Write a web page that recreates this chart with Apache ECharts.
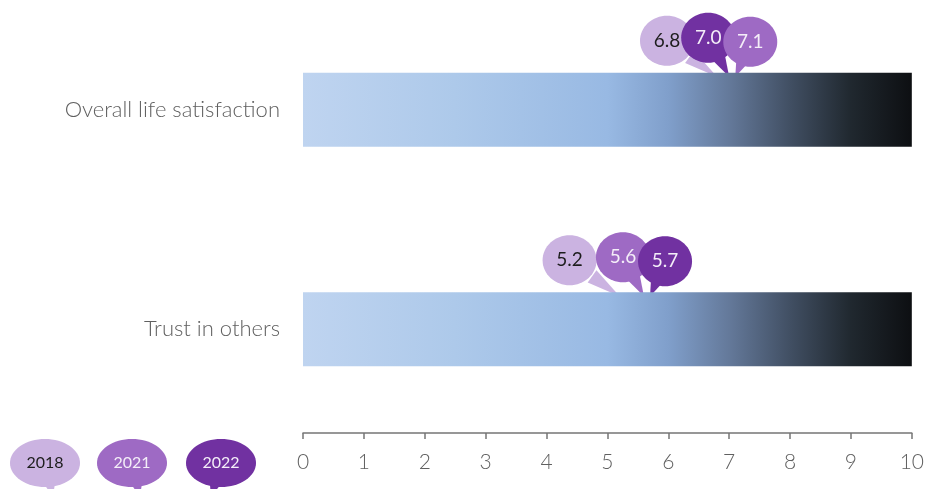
<!DOCTYPE html>
<html>
<head>
<meta charset="utf-8">
<script src="https://cdn.jsdelivr.net/npm/echarts@6/dist/echarts.min.js"></script>
<style>
  html, body { margin: 0; padding: 0; background: #ffffff; }
  #chart { width: 927px; height: 489px; }
</style>
</head>
<body>
<div id="chart"></div>
<script>
// Indicator names and the yearly scores (0-10 scale)
const categories = ['Overall life satisfaction', 'Trust in others'];
const years = ['2018', '2021', '2022'];
const values2018 = [6.8, 5.2];
const values2021 = [7.1, 5.6];
const values2022 = [7.0, 5.7];
const scaleEnd = [10, 10];
const xTicks = [0, 1, 2, 3, 4, 5, 6, 7, 8, 9, 10];

// Styling
const FONT = 'Lato, "Open Sans", sans-serif';
const yearFill = ['#CBB3E1', '#9E6AC4', '#7131A1'];
const yearText = ['#1d1d1d', '#F4EEF8', '#F4EEF8'];
const BAR_W = 74;
// bubble centre offset from its pointer tip, by rank within a row (left to right)
const bubbleOffset = [[-50, -36], [-21, -39], [15, -35]];
const BUBBLE_RX = 27, BUBBLE_RY = 25;

const seriesByYear = [values2018, values2021, values2022];

// one record per bubble, drawn left to right so the right-hand one sits on top
const bubbleData = [];
categories.forEach((c, ci) => {
  const items = years.map((y, yi) => ({ v: seriesByYear[yi][ci], yi }));
  items.sort((a, b) => a.v - b.v);
  items.forEach((it, rank) => bubbleData.push([it.v, ci, it.yi, rank]));
});

function ellipsePoints(cx, cy, rx, ry) {
  const pts = [];
  for (let i = 0; i < 64; i++) {
    const a = (i / 64) * Math.PI * 2;
    pts.push([cx + rx * Math.cos(a), cy + ry * Math.sin(a)]);
  }
  return pts;
}

function tailPoints(cx, cy, tx, ty, half) {
  const dx = tx - cx, dy = ty - cy;
  const len = Math.sqrt(dx * dx + dy * dy) || 1;
  const px = -dy / len * half, py = dx / len * half;
  const bx = cx + dx * 0.45, by = cy + dy * 0.45;
  return [[bx + px, by + py], [bx - px, by - py], [tx, ty]];
}

function bubble(cx, cy, rx, ry, tx, ty, fill, label, color, fontSize) {
  return {
    type: 'group',
    children: [
      { type: 'polygon', shape: { points: tailPoints(cx, cy, tx, ty, 7.5) }, style: { fill: fill } },
      { type: 'polygon', shape: { points: ellipsePoints(cx, cy, rx, ry) }, style: { fill: fill } },
      {
        type: 'text',
        x: cx, y: cy,
        style: {
          text: label, fill: color, font: fontSize + 'px ' + FONT,
          align: 'center', verticalAlign: 'middle'
        }
      }
    ]
  };
}

const chart = echarts.init(document.getElementById('chart'), null, { renderer: 'canvas' });

// legend bubbles in the lower-left corner
const legendX = [45, 132, 221];
const legendTip = [8, 8, -10];
const legendGraphics = years.map((y, i) =>
  bubble(legendX[i], 463, 35, 24, legendX[i] + legendTip[i], 497, yearFill[i], y, yearText[i], 16)
);

chart.setOption({
  animation: false,
  backgroundColor: '#ffffff',
  grid: { left: 303, right: 12, top: -1, height: 440, containLabel: false },
  xAxis: {
    type: 'value', min: xTicks[0], max: xTicks[xTicks.length - 1], interval: 1,
    offset: -6,
    axisLine: { show: true, lineStyle: { color: '#767676', width: 1.5 } },
    axisTick: { show: true, length: 6, lineStyle: { color: '#767676', width: 1.5 } },
    axisLabel: { color: '#606060', fontSize: 21, fontWeight: 300, fontFamily: FONT, margin: 19 },
    splitLine: { show: false }
  },
  yAxis: {
    type: 'category', data: categories, inverse: true,
    axisLine: { show: false }, axisTick: { show: false },
    axisLabel: { color: '#606060', fontSize: 22, fontWeight: 300, fontFamily: FONT, margin: 23 }
  },
  graphic: legendGraphics,
  series: [
    {
      type: 'bar', data: scaleEnd, barWidth: BAR_W, silent: true,
      itemStyle: {
        color: new echarts.graphic.LinearGradient(0, 0, 1, 0, [
          { offset: 0, color: '#BFD4F0' },
          { offset: 0.25, color: '#ADC9EA' },
          { offset: 0.5, color: '#98B9E3' },
          { offset: 0.6, color: '#809FCB' },
          { offset: 0.7, color: '#64799A' },
          { offset: 0.8, color: '#414F63' },
          { offset: 0.9, color: '#20282F' },
          { offset: 1, color: '#0D0F12' }
        ])
      }
    },
    {
      type: 'custom', data: bubbleData, silent: true, clip: false,
      renderItem: function (params, api) {
        const v = api.value(0), ci = api.value(1), yi = api.value(2), rank = api.value(3);
        const p = api.coord([v, ci]);
        const tx = p[0], ty = p[1] - BAR_W / 2 + 4;
        const cx = tx + bubbleOffset[rank][0], cy = ty + bubbleOffset[rank][1];
        return bubble(cx, cy, BUBBLE_RX, BUBBLE_RY, tx, ty, yearFill[yi], v.toFixed(1), yearText[yi], 19);
      }
    }
  ]
});
</script>
</body>
</html>
